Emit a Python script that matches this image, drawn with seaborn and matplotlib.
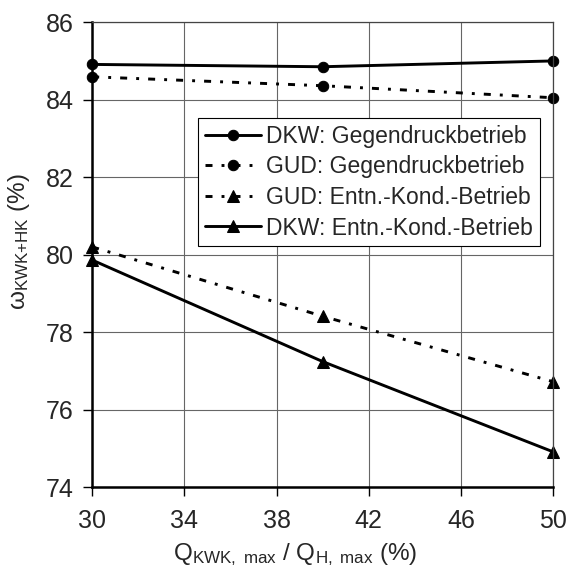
import pandas as pd
import matplotlib
matplotlib.use("Agg")
import matplotlib.pyplot as plt
import seaborn as sns

# data
x_vals = [30, 40, 50]
dkw_gegendruck = [84.91, 84.85, 85.00]
gud_gegendruck = [84.59, 84.36, 84.05]
gud_entn_kond = [80.20, 78.41, 76.72]
dkw_entn_kond = [79.86, 77.24, 74.91]
series_names = ["DKW: Gegendruckbetrieb", "GUD: Gegendruckbetrieb",
                "GUD: Entn.-Kond.-Betrieb", "DKW: Entn.-Kond.-Betrieb"]
x_ticks = [30, 34, 38, 42, 46, 50]
y_ticks = [74, 76, 78, 80, 82, 84, 86]

sns.set_style("white")
plt.rcParams['font.family'] = ['Liberation Sans', 'DejaVu Sans']
plt.rcParams['mathtext.fontset'] = 'custom'
plt.rcParams['mathtext.rm'] = 'Liberation Sans'
plt.rcParams['mathtext.it'] = 'Liberation Sans'

fig = plt.figure(figsize=(5.69, 5.69), dpi=100)
ax = fig.add_axes([0.162, 0.144, 0.810, 0.817])

dash = (0, (2.4, 3.1, 1.0, 3.1))
styles = [
    dict(marker='o', markersize=7.5, linestyle='-'),
    dict(marker='o', markersize=7.5, linestyle=dash),
    dict(marker='^', markersize=8, linestyle=dash),
    dict(marker='^', markersize=8, linestyle='-'),
]
all_series = [dkw_gegendruck, gud_gegendruck, gud_entn_kond, dkw_entn_kond]

for name, vals, st in zip(series_names, all_series, styles):
    df = pd.DataFrame({'x': x_vals, 'y': vals})
    sns.lineplot(data=df, x='x', y='y', ax=ax, color='black', linewidth=2.1,
                 markeredgecolor='black', label=name, clip_on=False, **st)

ax.set_xlim(30, 50)
ax.set_ylim(74, 86)
ax.set_xticks(x_ticks)
ax.set_yticks(y_ticks)
ax.grid(True, color='#666666', linewidth=0.8)
ax.set_axisbelow(True)

for side in ['left', 'bottom']:
    ax.spines[side].set_linewidth(1.8)
    ax.spines[side].set_color('black')
for side in ['top', 'right']:
    ax.spines[side].set_linewidth(0.9)
    ax.spines[side].set_color('#444444')

ax.tick_params(axis='both', labelsize=18, direction='out', length=6.5, width=1,
               color='black', left=True, bottom=True)
ax.tick_params(axis='x', pad=9)
ax.tick_params(axis='y', pad=7)

ax.set_xlabel(r'Q$_{\mathrm{KWK,\ max}}$ / Q$_{\mathrm{H,\ max}}$ (%)', fontsize=17.5)
ax.set_ylabel(r'ω$_{\mathrm{KWK{+}HK}}$ (%)', fontsize=17.5)
ax.xaxis.set_label_coords(0.44, -0.117)
ax.yaxis.set_label_coords(-0.13, 0.527)

leg = ax.legend(loc='upper left', bbox_to_anchor=(0.23, 0.794), fontsize=16.5,
                frameon=True, fancybox=False, framealpha=1, edgecolor='black',
                handlelength=2.45, handletextpad=0.2, borderpad=0.3,
                labelspacing=0.33, borderaxespad=0)
leg.get_frame().set_linewidth(0.8)

plt.savefig('out.png', dpi=100)
